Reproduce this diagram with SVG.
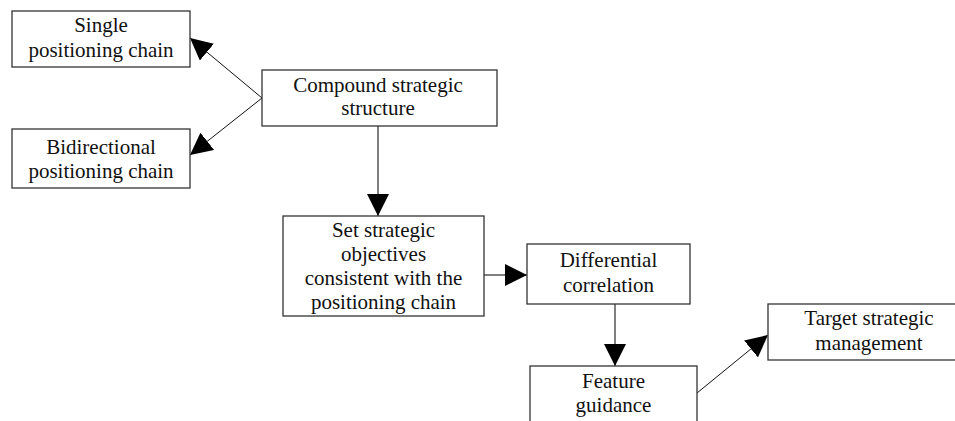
<svg xmlns="http://www.w3.org/2000/svg" width="955" height="421" viewBox="0 0 955 421">
<style>
.box{fill:#fff;stroke:#333;stroke-width:1.3}
.t{font-family:"Liberation Serif","Times New Roman",serif;font-size:21px;fill:#111;text-anchor:middle}
.c{stroke:#555;stroke-width:1.5;fill:none}
.d{stroke:#111;stroke-width:1;fill:none}
</style>
<defs>
<marker id="ah" viewBox="0 0 22 22" refX="22" refY="11" markerWidth="22" markerHeight="22" markerUnits="userSpaceOnUse" orient="auto">
<path d="M0,0 L22,11 L0,22 z" fill="#000"/>
</marker>
</defs>
<g id="connectors">
<line class="d" x1="262" y1="98" x2="190" y2="38" marker-end="url(#ah)"/>
<line class="d" x1="262" y1="98" x2="190" y2="155" marker-end="url(#ah)"/>
<line class="c" x1="378" y1="126" x2="378" y2="216" marker-end="url(#ah)"/>
<line class="c" x1="484" y1="275" x2="527" y2="275" marker-end="url(#ah)"/>
<line class="c" x1="615" y1="304" x2="615" y2="366" marker-end="url(#ah)"/>
<line class="d" x1="697" y1="393" x2="768" y2="335" marker-end="url(#ah)"/>
</g>
<g id="single">
<rect class="box" x="12" y="11" width="178" height="56"/>
<text class="t" x="101" y="32">Single</text>
<text class="t" x="101" y="57">positioning chain</text>
</g>
<g id="bidirectional">
<rect class="box" x="12" y="129" width="178" height="59"/>
<text class="t" x="101" y="154">Bidirectional</text>
<text class="t" x="101" y="178">positioning chain</text>
</g>
<g id="compound">
<rect class="box" x="262" y="70" width="235" height="56"/>
<text class="t" x="378" y="92">Compound strategic</text>
<text class="t" x="378" y="115">structure</text>
</g>
<g id="objectives">
<rect class="box" x="283" y="216" width="201" height="100"/>
<text class="t" x="383.5" y="237">Set strategic</text>
<text class="t" x="383.5" y="261">objectives</text>
<text class="t" x="383.5" y="285">consistent with the</text>
<text class="t" x="383.5" y="309">positioning chain</text>
</g>
<g id="differential">
<rect class="box" x="527" y="244" width="163" height="60"/>
<text class="t" x="608.5" y="267">Differential</text>
<text class="t" x="608.5" y="292">correlation</text>
</g>
<g id="feature">
<rect class="box" x="530" y="366" width="167" height="70"/>
<text class="t" x="613.5" y="388">Feature</text>
<text class="t" x="613.5" y="412">guidance</text>
</g>
<g id="target">
<rect class="box" x="768" y="304" width="200" height="56"/>
<text class="t" x="869" y="325">Target strategic</text>
<text class="t" x="869" y="350">management</text>
</g>
</svg>
